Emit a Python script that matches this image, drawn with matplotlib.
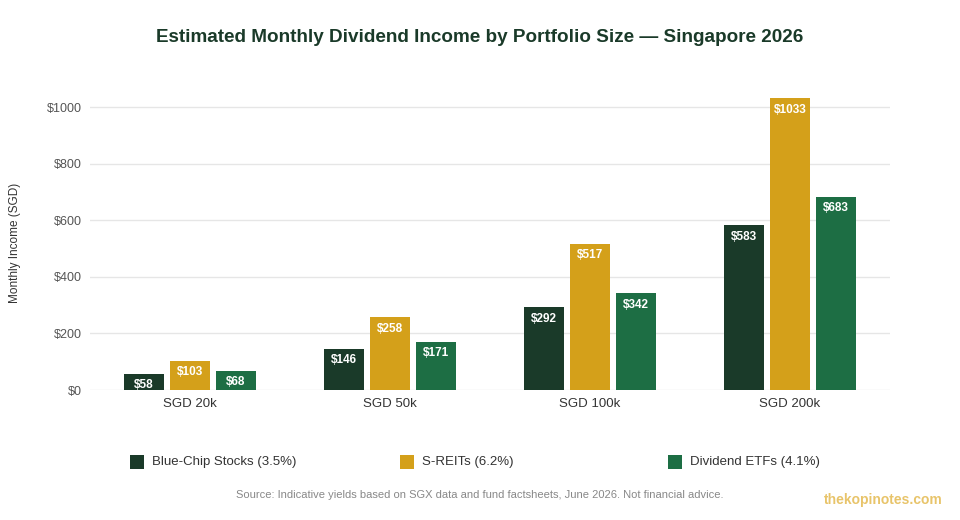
import matplotlib
matplotlib.use("Agg")
import matplotlib.pyplot as plt
import numpy as np
from matplotlib.patches import Rectangle

plt.rcParams['font.family'] = ['Liberation Sans', 'DejaVu Sans']

categories = ["SGD 20k", "SGD 50k", "SGD 100k", "SGD 200k"]
series_names = ["Blue-Chip Stocks (3.5%)", "S-REITs (6.2%)", "Dividend ETFs (4.1%)"]
blue_chip = [58, 146, 292, 583]
s_reits = [103, 258, 517, 1033]
div_etfs = [68, 171, 342, 683]
y_ticks = [0, 200, 400, 600, 800, 1000]
colors = ["#1a3a29", "#d4a01a", "#1d6e44"]

fig = plt.figure(figsize=(9.6, 5.2), dpi=100)
ax = fig.add_axes([90/960, 1-390/520, 800/960, 294/520])

x = np.arange(len(categories))
w = 0.2
step = 0.23
for i, (vals, c) in enumerate(zip([blue_chip, s_reits, div_etfs], colors)):
    pos = x + (i - 1) * step
    ax.bar(pos, vals, width=w, color=c, zorder=3)
    for xi, v in zip(pos, vals):
        ax.annotate(f"${v}", (xi, v), xytext=(0, -4), textcoords="offset points",
                    ha="center", va="top", color="white", fontsize=8.5, fontweight="bold", zorder=4)

ax.set_xlim(-0.5, 3.5)
ax.set_ylim(0, 1040)
ax.set_yticks(y_ticks)
ax.set_yticklabels([f"${t}" for t in y_ticks], color="#555555", fontsize=9)
ax.set_xticks(x)
ax.set_xticklabels(categories, fontsize=9.5, color="#333333")
ax.tick_params(axis="both", length=0, pad=6)
ax.grid(axis="y", color="#e6e6e6", linewidth=1, zorder=0)
for s in ax.spines.values():
    s.set_visible(False)
fig.text(15/960, 1-243/520, "Monthly Income (SGD)", rotation=90, ha="center", va="center",
         fontsize=8.5, color="#333333")

fig.text(0.5, 1-38/520, "Estimated Monthly Dividend Income by Portfolio Size \u2014 Singapore 2026",
         ha="center", va="center", fontsize=13.6, fontweight="bold", color="#1a3a29")

# legend
leg_x = [130, 400, 668]
for lx, name, c in zip(leg_x, series_names, colors):
    fig.patches.append(Rectangle((lx/960, 1-469/520), 14/960, 14/520, transform=fig.transFigure,
                                 facecolor=c, edgecolor="none"))
    fig.text((lx+22)/960, 1-462/520, name, ha="left", va="center", fontsize=9.5, color="#333333")

fig.text(480/960, 1-495/520,
         "Source: Indicative yields based on SGX data and fund factsheets, June 2026. Not financial advice.",
         ha="center", va="center", fontsize=8, color="#888888")
fig.text(943/960, 1-500/520, "thekopinotes.com", ha="right", va="center", fontsize=10,
         fontweight="bold", color="#e8c46a")

fig.savefig("out.png", dpi=100)
